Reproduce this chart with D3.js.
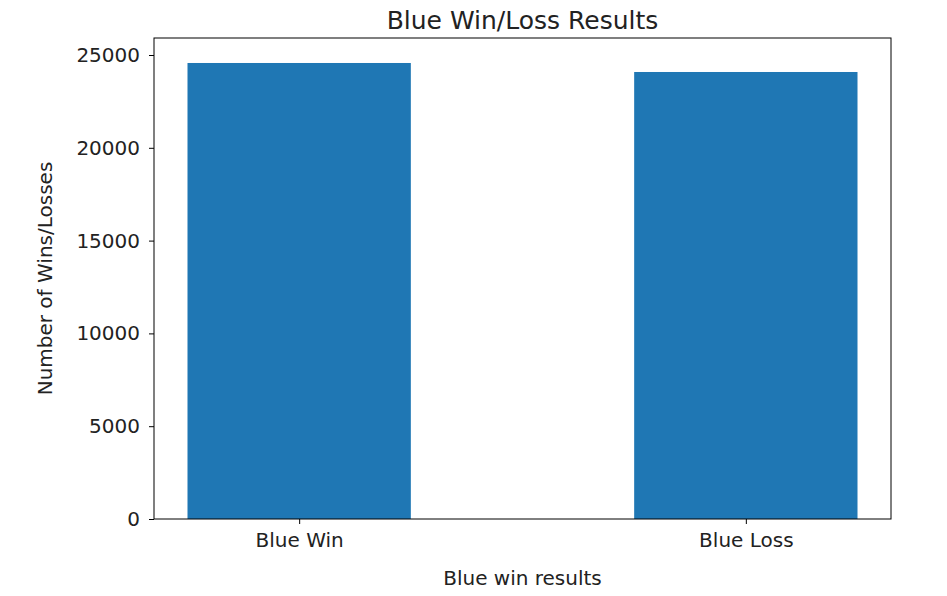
<!DOCTYPE html>
<html lang="en">
<head>
<meta charset="UTF-8">
<title>Blue Win/Loss Results</title>
<style>
  body { margin: 0; background: #fff; }
  text { font-family: "DejaVu Sans", sans-serif; fill: #000; }
  .tick text { font-size: 20px; fill: #222; }
</style>
</head>
<body>
<svg></svg>
<script src="https://d3js.org/d3.v7.min.js"></script>
<script>
const categories = ["Blue Win", "Blue Loss"];
const counts = [24570, 24085];
const yTicks = [0, 5000, 10000, 15000, 20000, 25000];

const width = 947, height = 596;
const margin = {left: 154, right: 56, top: 38, bottom: 77};
const svg = d3.select("svg").attr("width", width).attr("height", height);

// x in bar-index units, matplotlib-style padding
const x = d3.scaleLinear().domain([-0.325, 1.325]).range([margin.left, width - margin.right]);
const yMax = d3.max(counts) * 1.0548;
const y = d3.scaleLinear().domain([0, yMax]).range([height - margin.bottom, margin.top]);

svg.append("g").selectAll("rect")
  .data(counts)
  .enter().append("rect")
  .attr("x", (d, i) => x(i - 0.25))
  .attr("width", x(0.5) - x(0))
  .attr("y", d => y(d))
  .attr("height", d => y(0) - y(d))
  .attr("fill", "#1f77b4");

svg.append("g")
  .attr("transform", `translate(0,${height - margin.bottom})`)
  .call(d3.axisBottom(x).tickValues([0, 1]).tickFormat(i => categories[i]).tickSizeOuter(0).tickSize(5).tickPadding(9))
  .call(g => g.select(".domain").remove());

svg.append("g")
  .attr("transform", `translate(${margin.left},0)`)
  .call(d3.axisLeft(y).tickValues(yTicks).tickFormat(d3.format("d")).tickSizeOuter(0).tickSize(5).tickPadding(9))
  .call(g => g.select(".domain").remove());

// frame
svg.append("rect")
  .attr("x", margin.left).attr("y", margin.top)
  .attr("width", width - margin.left - margin.right)
  .attr("height", height - margin.top - margin.bottom)
  .attr("fill", "none").attr("stroke", "#000").attr("stroke-width", 1);

svg.append("text")
  .attr("x", (margin.left + width - margin.right) / 2).attr("y", 29)
  .attr("text-anchor", "middle").style("font-size", "25px").style("fill", "#222")
  .text("Blue Win/Loss Results");

svg.append("text")
  .attr("x", (margin.left + width - margin.right) / 2).attr("y", 585)
  .attr("text-anchor", "middle").style("font-size", "20px").style("fill", "#222")
  .text("Blue win results");

svg.append("text")
  .attr("transform", `translate(52,${(margin.top + height - margin.bottom) / 2}) rotate(-90)`)
  .attr("text-anchor", "middle").style("font-size", "20px").style("fill", "#222")
  .text("Number of Wins/Losses");
</script>
</body>
</html>
